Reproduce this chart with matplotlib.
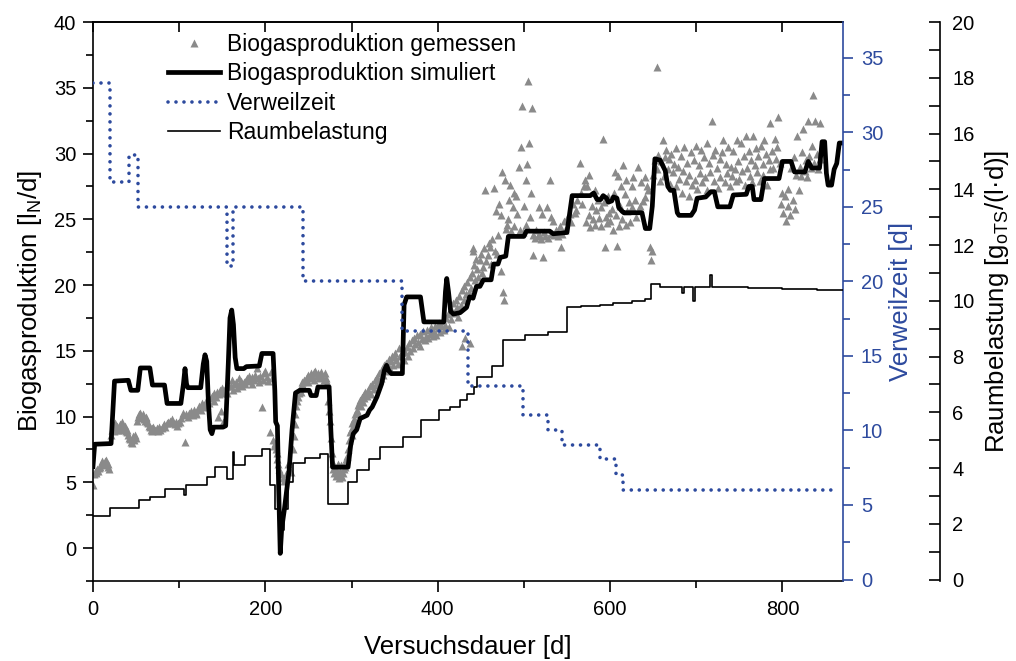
import numpy as np
import matplotlib
matplotlib.use('Agg')
import matplotlib.pyplot as plt
from matplotlib.ticker import MultipleLocator

plt.rcParams['font.family'] = 'Liberation Sans'
plt.rcParams['mathtext.fontset'] = 'custom'
plt.rcParams['mathtext.rm'] = 'Liberation Sans'

BLUE = '#2D4A9E'
GRAY = '#8a8a8a'

# gemessene Biogasproduktion, (Tag, l_N/d)
gemessen_start = [
    (0, 4.8), (1, 5.6), (2, 5.8), (3, 5.7), (4, 5.9), (5, 6.0), (6, 5.9), (7, 6.1), (8, 6.2), (9, 6.4),
    (10, 6.5), (11, 6.6), (12, 6.4), (13, 6.3), (14, 6.6), (15, 6.7), (16, 6.5), (17, 6.4), (18, 6.2), (19, 6.0),
    (21, 8.6), (22, 9.0), (23, 9.2), (24, 8.9), (25, 9.4), (26, 9.5), (27, 9.1), (28, 9.3), (29, 9.0), (30, 9.2),
    (31, 9.4), (32, 9.0), (33, 9.3), (34, 9.6), (35, 9.2), (36, 9.1), (37, 9.3), (38, 8.9), (39, 9.0), (40, 8.8),
    (41, 8.6), (42, 8.4), (43, 8.3), (44, 8.1), (45, 8.0), (46, 8.3), (47, 8.5), (48, 8.2), (49, 8.6), (50, 8.4),
    (51, 9.7), (52, 10.0), (53, 10.2), (54, 10.3), (55, 10.1), (56, 9.9), (57, 10.0), (58, 10.2), (59, 9.8), (60, 9.7),
    (61, 10.0), (62, 9.9), (63, 9.6), (64, 9.5), (65, 9.3), (66, 9.2), (67, 9.0), (68, 9.1), (69, 8.9), (70, 9.2),
]
gemessen_phase1 = [
    (72, 9.0), (74, 9.1), (75, 8.9), (77, 9.2), (78, 9.0), (80, 9.1), (81, 9.3), (83, 9.4), (84, 9.2), (86, 9.5),
    (87, 9.6), (89, 9.7), (90, 9.5), (92, 9.8), (93, 9.6), (95, 9.4), (96, 9.6), (98, 9.3), (99, 9.5),
    (101, 9.6), (102, 9.9), (104, 10.1), (105, 10.3), (107, 8.1), (108, 10.2), (110, 10.0), (111, 10.3), (113, 10.2),
    (114, 10.4), (116, 10.1), (117, 10.5), (119, 10.3), (120, 10.2), (122, 10.6), (123, 10.8), (125, 10.5),
    (126, 11.0), (128, 10.7), (129, 10.9),
    (131, 11.2), (132, 10.9), (134, 11.3), (135, 11.0), (137, 11.4), (138, 11.6), (140, 11.2), (141, 11.8),
    (143, 11.5), (144, 11.9), (145, 10.0), (146, 11.7), (147, 12.0), (148, 10.4), (149, 11.8), (150, 12.2),
    (151, 9.6), (152, 11.9), (153, 12.1), (155, 12.4), (156, 11.8), (158, 12.3),
    (160, 12.3), (161, 12.8), (163, 12.0), (164, 12.5), (166, 12.6), (167, 12.2), (169, 12.9), (170, 12.4),
    (172, 12.7), (173, 12.3), (175, 12.6), (176, 12.5), (178, 12.8), (179, 12.9), (181, 13.1), (182, 12.7),
    (184, 12.5), (185, 13.0), (187, 12.8), (188, 13.2), (190, 13.7), (191, 12.9), (193, 12.6), (194, 13.1),
    (196, 10.7), (197, 12.8), (199, 13.3), (200, 13.5), (202, 13.0), (203, 12.7), (205, 8.8), (206, 13.4), (208, 12.9),
]
gemessen_stoerung = [
    (209, 8.2), (210, 7.8), (211, 8.0), (212, 7.5), (213, 7.2), (214, 6.8), (215, 6.4), (216, 6.0), (218, 5.6),
    (220, 5.3), (222, 5.1), (224, 5.6), (226, 6.4), (228, 6.0), (230, 5.8), (232, 7.5),
    (233, 8.5), (234, 9.4), (235, 10.2), (236, 10.8), (237, 11.2), (238, 11.5), (239, 11.8), (240, 12.2),
    (241, 11.9), (242, 12.4), (243, 12.6), (244, 12.3), (245, 12.8), (246, 12.7), (248, 13.0), (249, 12.6),
    (250, 13.2), (252, 12.9), (253, 13.3), (254, 13.0), (256, 13.4), (257, 12.8), (258, 13.5), (260, 13.1),
    (261, 13.3), (262, 12.9), (264, 13.2), (265, 13.4), (266, 13.0), (268, 12.8), (269, 13.3), (270, 12.9), (272, 12.6),
    (273, 11.2), (274, 10.4), (275, 9.7), (276, 8.4), (277, 7.2), (278, 6.5), (279, 6.0), (280, 5.7), (281, 6.2),
    (282, 5.5), (283, 5.8), (284, 6.4), (285, 5.3), (286, 5.6), (287, 5.9), (288, 6.3), (289, 5.4), (290, 5.7),
    (291, 6.0), (292, 6.5), (293, 6.2), (294, 6.8), (295, 7.0), (296, 7.5),
]
gemessen_steigerung = [
    (297, 8.2), (298, 8.8), (299, 9.0), (300, 9.5), (301, 8.6), (302, 9.2), (303, 9.8), (304, 10.2), (305, 9.6),
    (306, 10.5), (307, 10.9), (308, 10.3), (309, 11.0), (310, 11.3), (311, 10.8), (312, 11.5), (313, 11.1),
    (314, 11.7), (315, 11.4), (316, 11.9), (318, 11.6), (319, 12.0), (320, 11.8), (322, 12.3), (323, 11.7),
    (324, 12.5), (326, 12.1), (327, 12.8), (328, 12.4), (330, 13.0), (331, 12.6), (332, 13.3), (334, 12.9),
    (335, 13.6), (336, 13.2), (338, 13.9), (339, 13.5), (340, 14.1), (342, 13.7), (343, 14.4), (344, 13.8),
    (346, 14.2), (347, 14.6), (348, 13.9), (350, 14.5), (351, 14.8), (352, 14.3), (354, 14.0), (355, 15.2),
    (356, 14.6), (358, 14.9),
    (361, 14.3), (362, 14.9), (364, 15.3), (365, 14.6), (367, 15.6), (368, 15.0), (370, 15.8), (371, 15.2),
    (373, 16.0), (374, 15.5), (376, 16.2), (377, 15.7), (379, 15.4), (380, 16.3), (382, 15.9), (383, 16.5),
    (385, 15.8), (386, 16.1), (388, 16.6), (389, 16.0), (391, 16.3), (392, 16.8), (394, 16.1), (395, 16.5),
    (397, 16.9), (398, 16.2), (400, 16.7), (401, 17.1), (403, 16.4), (404, 16.9), (406, 17.3), (407, 16.6),
    (409, 17.0), (410, 17.5), (412, 17.8), (413, 16.8), (415, 18.2), (416, 17.4), (418, 18.6), (419, 17.9),
    (421, 18.9), (422, 18.3), (424, 17.6), (425, 19.2), (427, 18.5), (428, 15.4), (428.5, 19.6), (430, 18.9),
    (431, 19.9), (432, 16.0), (433, 19.3), (434, 20.2), (436, 19.5), (437, 20.6), (438, 15.6), (439, 19.8), (441, 22.8),
]
gemessen_hoch = [
    (440, 20.9), (440.5, 22.6), (442, 21.5), (443, 20.4), (444, 22.0), (446, 21.2), (447, 20.6), (449, 21.9),
    (450, 22.4), (451, 20.9), (453, 21.4), (454, 22.8), (455, 27.2), (456, 21.8), (458, 22.3), (459, 23.2),
    (461, 22.9), (462, 21.6), (463, 23.5), (465, 27.4), (466, 22.6), (468, 25.6), (469, 22.4), (470, 23.8),
    (471, 26.2), (473, 25.3), (474, 21.1), (475, 28.6), (476, 19.5), (477, 18.85), (478, 28.0), (479, 24.3),
    (480, 24.6), (481, 25.0), (483, 26.5), (484, 27.6), (485, 24.1), (487, 25.9), (488, 27.0), (489, 24.5),
    (491, 26.8), (492, 25.4), (494, 29.0), (495, 24.2), (497, 30.5), (497.5, 33.6), (499, 24.0), (500, 26.0),
    (502, 28.0), (503, 24.6), (504, 29.2), (505, 35.5), (506, 30.8), (507, 25.2), (508, 27.0), (509, 33.5),
    (510, 22.3), (511, 23.8), (513, 23.6), (514, 24.2), (516, 23.7), (517, 25.9), (518, 23.9), (520, 23.5),
    (521, 25.4), (522, 22.1), (523, 24.0), (525, 23.7), (527, 25.9), (528, 23.6), (530, 28.0), (531, 25.2),
    (532, 23.9), (534, 24.9), (535, 23.8), (537, 24.2), (539, 23.7), (540, 24.0), (542, 24.5), (542.5, 22.9),
    (544, 23.9), (546, 24.9), (548, 24.2), (550, 25.1), (553, 25.4), (555, 24.8), (557, 26.2), (559, 25.5),
    (561, 25.7), (562, 26.5), (565, 29.3), (566, 27.0), (568, 26.2), (570, 27.5),
    (571, 28.0), (572, 24.8), (573, 27.5), (575, 28.4), (576, 25.3), (577, 24.4), (579, 26.0), (580, 25.0),
    (582, 27.2), (583, 24.6), (584, 25.7), (586, 26.5), (587, 25.1), (589, 24.5), (590, 25.9), (592, 31.1),
    (593, 26.3), (594, 22.9), (595, 25.2), (596, 24.7), (598, 26.8), (599, 25.5), (600, 24.9), (602, 25.8),
    (603, 24.2), (604, 27.0), (606, 28.6), (607, 25.3), (608, 23.0), (609, 28.3), (610, 24.5), (611, 26.0),
    (613, 27.5), (614, 25.0), (615, 29.1), (617, 26.9), (618, 24.6), (619, 28.0), (620, 25.6), (622, 26.3),
    (623, 24.8), (625, 27.5), (626, 25.9), (627, 28.2), (629, 26.5), (630, 25.2), (632, 29.0), (633, 25.7),
    (635, 26.0), (636, 27.8), (638, 26.4), (640, 26.7), (641, 28.2), (643, 27.5), (644, 27.2), (646, 22.9),
    (648, 21.9), (648.5, 22.6), (650, 28.4),
]
gemessen_ende = [
    (652, 29.5), (654, 36.6), (655, 28.8), (656, 29.9), (658, 27.9), (659, 29.4), (661, 31.0), (662, 28.3),
    (664, 29.7), (665, 30.3), (667, 28.8), (668, 29.6), (670, 27.7), (671, 30.0), (673, 28.6), (674, 29.2),
    (676, 30.4), (677, 27.5), (679, 29.0), (680, 28.1), (682, 29.8), (683, 27.0), (685, 28.7), (686, 30.5),
    (688, 27.9), (689, 29.3), (691, 26.8), (692, 28.4), (694, 30.1), (695, 27.6), (697, 29.5), (698, 28.0),
    (700, 30.6), (701, 27.3), (703, 29.1), (704, 28.5), (706, 30.3), (707, 27.8), (709, 29.7), (710, 28.2),
    (712, 30.8), (713, 27.2), (715, 29.3), (716, 28.6), (718, 32.5), (719, 29.9), (721, 27.9), (722, 30.3),
    (724, 28.9), (725, 27.4), (727, 29.6), (728, 28.2), (730, 30.1), (731, 31.0), (733, 27.8), (734, 29.2),
    (736, 28.5), (737, 30.5), (739, 27.5), (740, 29.0), (742, 28.3), (743, 30.2), (745, 28.8), (746, 27.9),
    (747, 31.0), (749, 29.4), (750, 28.1), (752, 30.8), (753, 28.7), (755, 29.8), (756, 27.6), (758, 31.3),
    (759, 28.9), (761, 30.2), (762, 28.3), (764, 29.5), (765, 27.8), (766, 31.3), (768, 29.1), (769, 30.4),
    (771, 28.6), (772, 29.8), (774, 27.9), (775, 30.6), (777, 29.2), (778, 28.4), (779, 31.0), (781, 30.0),
    (782, 27.6), (784, 29.5), (785, 28.8), (786, 32.3), (788, 30.2), (789, 28.9), (791, 31.1), (792, 29.6),
    (794, 30.5), (795, 32.8), (797, 29.3), (798, 26.2), (800, 27.0), (801, 25.5), (803, 26.8), (804, 24.9),
    (806, 26.0), (807, 27.3), (809, 25.3), (810, 28.9), (812, 26.5), (813, 29.7), (815, 25.8), (816, 28.4),
    (817, 31.3), (819, 27.2), (820, 29.0), (822, 28.3), (823, 30.1), (824, 31.9), (826, 28.7), (827, 29.5),
    (829, 28.2), (830, 32.5), (831, 29.8), (833, 28.9), (834, 30.6), (836, 34.45), (837, 29.3), (838, 32.5),
    (840, 30.0), (841, 28.8), (843, 32.3), (844, 29.6), (846, 30.4),
]

# simulierte Biogasproduktion (Tag, l_N/d)
simuliert = [
    (0, 6.2), (2, 7.9), (21, 7.95), (25, 12.7), (41, 12.76), (44, 12.0), (52, 12.0), (55, 13.7), (66, 13.7),
    (69, 12.4), (83, 12.4), (86, 11.0), (102, 11.0), (105, 12.5), (106.8, 13.65), (108.5, 12.5), (110, 12.2),
    (125, 12.2), (128, 14.0), (130, 14.7), (132, 14.2), (134, 11.0), (136, 9.0), (138, 8.7), (140, 9.2),
    (151, 9.2), (154, 9.3), (157, 14.0), (159, 17.5), (161, 18.1), (163, 17.0), (165, 14.5), (167, 13.65),
    (175, 13.65), (178, 13.8), (193, 13.85), (196, 14.8), (209, 14.8), (211, 12.0), (212, 9.6), (214, 9.3),
    (215.5, 4.5), (217.3, -0.4), (219, 1.5), (222, 2.9), (225, 4.5), (227.6, 5.9), (231, 9.0), (235, 11.8),
    (240, 12.0), (251, 12.0), (253, 11.6), (259, 11.6), (261, 12.25), (274, 12.25), (276, 9.0), (278, 6.16),
    (296, 6.16), (299, 7.8), (302, 8.7), (306, 9.0), (310, 9.85), (318, 10.1), (321, 10.5), (324, 10.73),
    (329.5, 11.5), (335, 12.5), (338, 13.5), (340.7, 13.9), (343, 13.5), (346, 13.27), (359, 13.27),
    (361, 18.5), (364, 19.1), (380, 19.1), (384, 17.2), (407, 17.2), (409, 19.5), (410.5, 20.5), (412.5, 19.5),
    (415, 18.0), (418, 17.8), (426, 17.9), (433.5, 18.3), (437, 19.1), (441, 19.0), (445, 19.9), (449, 19.9),
    (453, 20.4), (462, 20.4), (465, 21.6), (470, 21.6), (472.5, 22.1), (479, 22.2), (482, 23.7), (500, 23.7),
    (503, 24.1), (530, 24.1), (534, 23.9), (550, 24.0), (556, 26.8), (573, 26.8), (577, 26.8), (581, 27.0),
    (585, 26.5), (589, 26.5), (592, 26.8), (596, 26.6), (598, 26.3), (602, 26.4), (604, 26.7), (608, 26.6),
    (610, 25.9), (614, 25.6), (616, 25.5), (637, 25.5), (641, 24.3), (646, 24.3), (649, 26.0), (652, 29.6),
    (658, 29.5), (664, 28.7), (667, 27.5), (670, 27.2), (674, 27.2), (678, 25.5), (680, 25.3), (694, 25.3),
    (698, 25.7), (701, 26.6), (711, 26.7), (717, 27.1), (721, 27.1), (725, 25.95), (739, 25.95), (743, 26.85),
    (758, 26.9), (761, 27.5), (765, 27.5), (767, 26.5), (775, 26.5), (779, 28.1), (796, 28.1), (800, 29.4),
    (810, 29.4), (814, 28.6), (826, 28.6), (830, 29.4), (834, 28.9), (843, 28.9), (846, 30.9), (849, 30.9),
    (851, 28.5), (853, 27.6), (857, 27.6), (860, 28.8), (863, 29.25), (866, 30.8), (870, 30.8),
]

# Verweilzeit [d], Stufen ab Tag
vz_tag = [0, 20, 42, 52, 155, 162.5, 244, 358, 435.5, 499, 528, 544, 588, 607, 615, 865]
vz_wert = [33.3, 26.7, 28.5, 25.0, 21.0, 25.0, 20.0, 16.7, 13.0, 11.05, 10.0, 9.0, 8.06, 7.0, 6.0, 6.0]

# Raumbelastung [g_oTS/(l d)], Stufen ab Tag
rb_tag = [0, 20, 53, 66, 84, 106, 107.5, 132, 142, 155, 163, 164, 176, 196, 205.5, 211, 215.5, 222, 226,
          232, 246, 263, 273, 296, 306, 320, 333, 360, 381, 402, 414, 426, 434, 442, 446, 463, 476, 501, 528,
          550, 566, 588, 603, 626, 640, 648, 658, 684, 686, 696, 699, 716, 718, 760, 800, 840, 870]
rb_wert = [2.28, 2.57, 2.87, 2.96, 3.24, 3.05, 3.38, 3.68, 4.04, 3.62, 4.57, 4.10, 4.45, 4.69, 3.38, 2.55,
           1.77, 2.55, 3.5, 4.2, 4.36, 4.52, 2.72, 3.5, 3.92, 4.34, 4.75, 5.11, 5.71, 6.07, 6.19, 6.43, 6.67,
           6.9, 7.26, 7.68, 8.58, 8.76, 8.87, 9.77, 9.8, 9.85, 9.93, 10.0, 10.07, 10.6, 10.49, 10.27, 10.49,
           10.0, 10.49, 10.94, 10.49, 10.45, 10.42, 10.39, 10.39]

mess = np.array(gemessen_start + gemessen_phase1 + gemessen_stoerung + gemessen_steigerung
                + gemessen_hoch + gemessen_ende)
sim = np.array(simuliert)

fig = plt.figure(figsize=(10.16, 6.61), dpi=100)
ax = fig.add_axes([0.0915, 0.121, 0.738, 0.8457])
ax2 = ax.twinx()
ax3 = ax.twinx()

p_mess, = ax.plot(mess[:, 0], mess[:, 1], ls='none', marker='^', ms=5.5, color=GRAY, mec='none',
                  label='Biogasproduktion gemessen')
p_sim, = ax.plot(sim[:, 0], sim[:, 1], color='k', lw=3.4, solid_joinstyle='round',
                 label='Biogasproduktion simuliert')
p_vz, = ax2.plot(vz_tag, vz_wert, drawstyle='steps-post', color=BLUE, lw=2.6,
                 ls=(0, (0.01, 2.2)), dash_capstyle='round', label='Verweilzeit')
p_rb, = ax3.plot(rb_tag, rb_wert, drawstyle='steps-post', color='k', lw=1.2, label='Raumbelastung')

ax.set_xlim(0, 870)
ax.set_ylim(-2.5, 40)
ax2.set_ylim(-0.1, 37.4)
ax3.set_ylim(-0.05, 20)

# spines
for a in (ax, ax2, ax3):
    for s in a.spines.values():
        s.set_linewidth(1.2)
ax.spines['right'].set_visible(False)
for a in (ax2, ax3):
    for s in ('left', 'top', 'bottom'):
        a.spines[s].set_visible(False)
ax2.spines['right'].set_color(BLUE)
ax3.spines['right'].set_position(('outward', 70))

# ticks
ax.xaxis.set_major_locator(MultipleLocator(200))
ax.xaxis.set_minor_locator(MultipleLocator(100))
ax.yaxis.set_major_locator(MultipleLocator(5))
ax.yaxis.set_minor_locator(MultipleLocator(2.5))
ax.tick_params(axis='both', which='major', direction='out', length=7, width=1.2, labelsize=14.5, pad=5)
ax.tick_params(axis='both', which='minor', direction='out', length=5, width=1.2)
ax.tick_params(axis='x', which='major', pad=6, length=8)

top = ax.secondary_xaxis('top')
top.xaxis.set_major_locator(MultipleLocator(100))
top.tick_params(axis='x', direction='in', length=7, width=1.2, labeltop=False)
top.spines['top'].set_linewidth(1.2)

ax2.yaxis.set_major_locator(MultipleLocator(5))
ax2.yaxis.set_minor_locator(MultipleLocator(2.5))
ax2.tick_params(axis='y', which='major', direction='out', length=7, width=1.2, labelsize=14.5,
                pad=6, colors=BLUE)
ax2.tick_params(axis='y', which='minor', direction='out', length=5, width=1.2, colors=BLUE)

ax3.yaxis.set_major_locator(MultipleLocator(2))
ax3.yaxis.set_minor_locator(MultipleLocator(1))
ax3.tick_params(axis='y', which='both', direction='in', length=8, width=1.2, labelsize=14.5, pad=9)

ax.set_xlabel('Versuchsdauer [d]', fontsize=18.5, labelpad=11)
ax.set_ylabel('Biogasproduktion [l$_\\mathregular{N}$/d]', fontsize=18.5, labelpad=7)
ax2.set_ylabel('Verweilzeit [d]', fontsize=18.5, color=BLUE, labelpad=4)
ax3.set_ylabel('Raumbelastung [g$_\\mathregular{oTS}$/(l·d)]', fontsize=18.5, labelpad=6)

ax3.legend([p_mess, p_sim, p_vz, p_rb],
           [p.get_label() for p in (p_mess, p_sim, p_vz, p_rb)],
           loc='upper left', bbox_to_anchor=(0.165, 0.95), bbox_transform=fig.transFigure,
           frameon=False, fontsize=16.5, numpoints=1, handlelength=2.3, handletextpad=0.3,
           labelspacing=0.28, borderpad=0, borderaxespad=0)

fig.savefig('out.png', dpi=100)
